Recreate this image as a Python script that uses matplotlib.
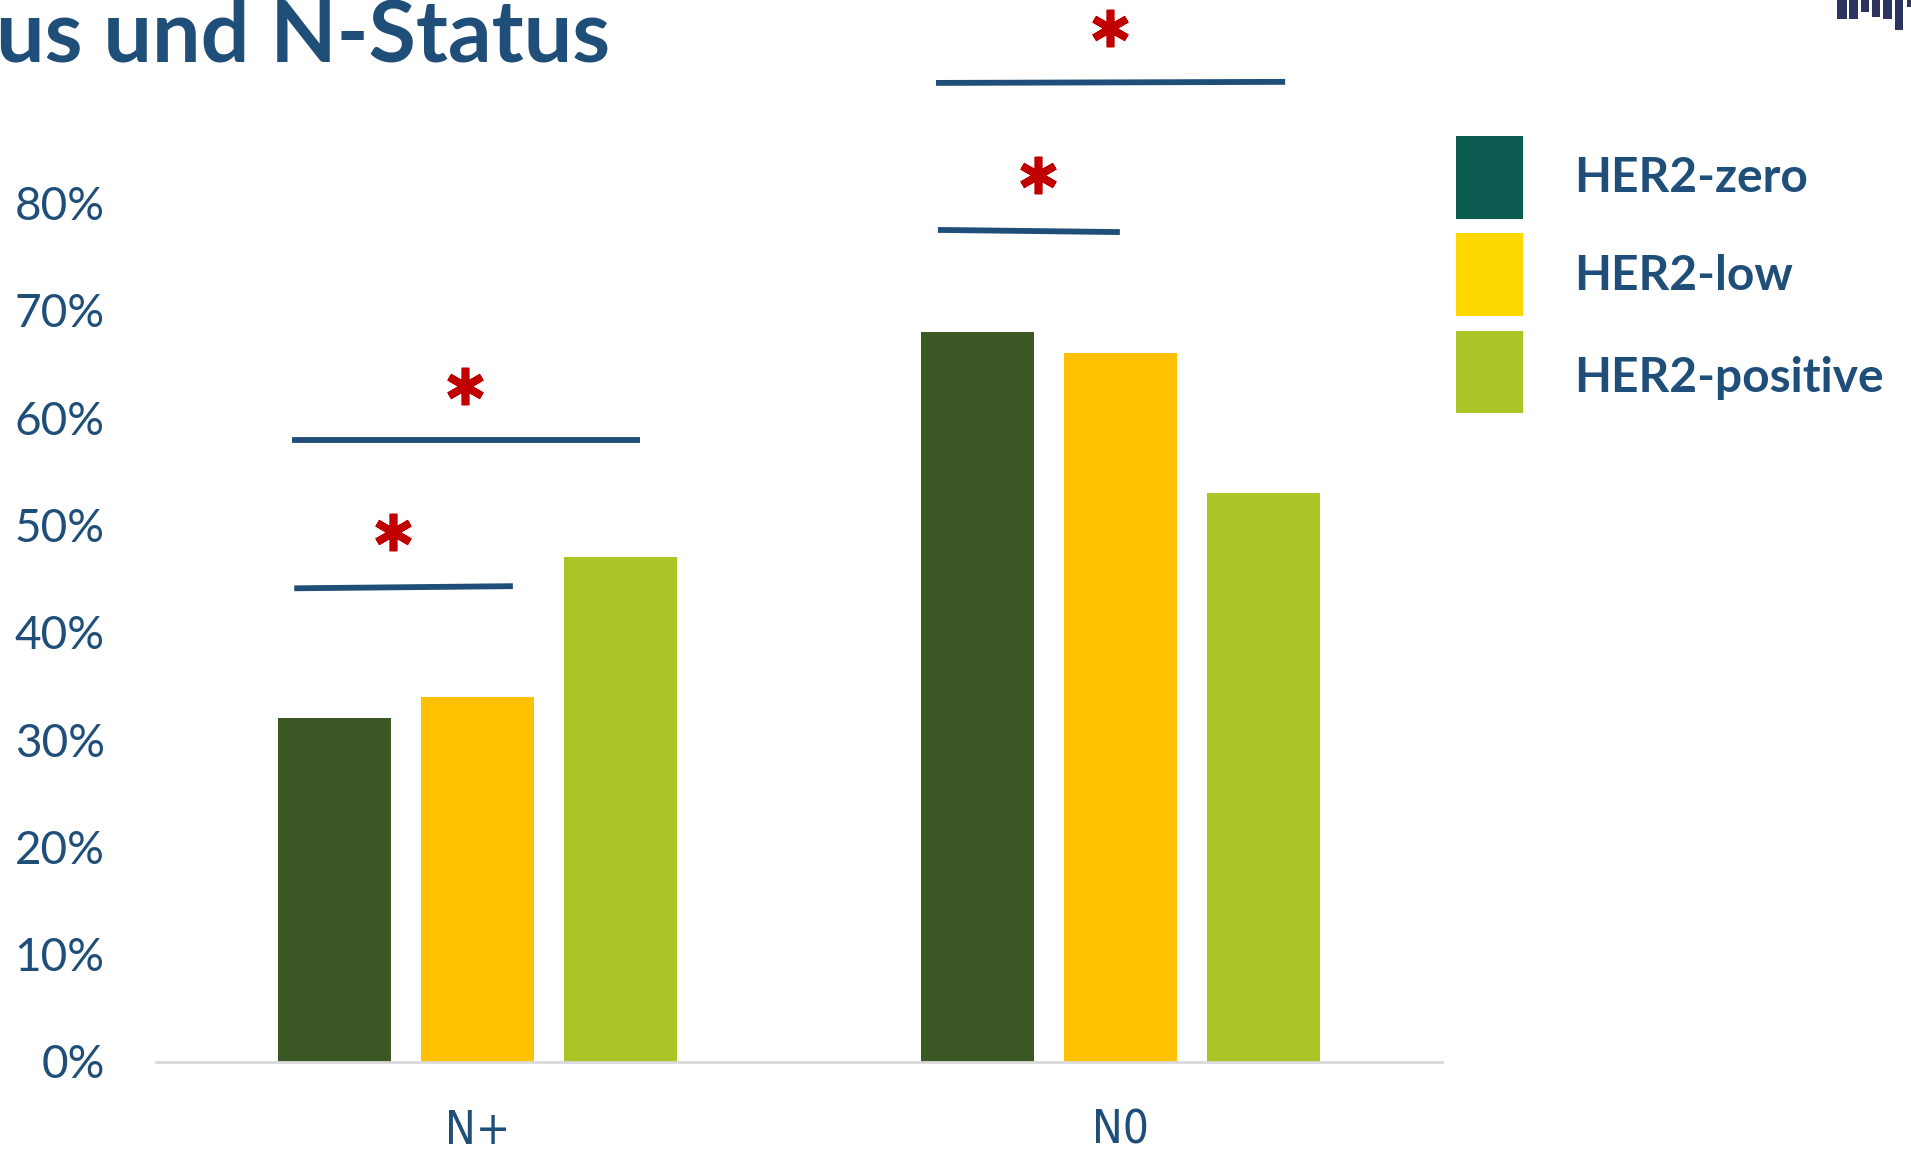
import matplotlib.pyplot as plt
from matplotlib.patches import Rectangle
import numpy as np

# data
categories = ['N+', 'N0']
series = ['HER2-zero', 'HER2-low', 'HER2-positive']
values = {
    'HER2-zero': [0.32, 0.68],
    'HER2-low': [0.34, 0.66],
    'HER2-positive': [0.47, 0.53],
}
yticks = [0, 0.1, 0.2, 0.3, 0.4, 0.5, 0.6, 0.7, 0.8]
ytick_labels = ['0%', '10%', '20%', '30%', '40%', '50%', '60%', '70%', '80%']

# significance brackets: (x0, x1, y0, y1) and asterisk positions (x, y)
sig_lines = [(-0.285, 0.055, 0.441, 0.443),
             (-0.288, 0.253, 0.579, 0.579),
             (0.716, 0.999, 0.775, 0.773),
             (0.713, 1.256, 0.912, 0.913)]
sig_stars = [(-0.131, 0.4935), (-0.019, 0.63), (0.872, 0.826), (0.984, 0.963)]

bar_colors = ['#3a5724', '#ffc000', '#aac626']
legend_colors = ['#0d5c52', '#ffd800', '#aac526']
navy = '#1f4e79'

W, H = 1911, 1150
fig = plt.figure(figsize=(W / 100, H / 100), dpi=100)
ax = fig.add_axes([156 / W, (H - 1061.5) / H, (1442 - 156) / W, 1061.5 / H])

x = np.arange(len(categories))
width = 0.176
step = 0.222
for i, s in enumerate(series):
    ax.bar(x + (i - 1) * step, values[s], width, color=bar_colors[i], zorder=2)

ax.set_xlim(-0.5, 1.5)
ax.set_ylim(0, 1061.5 / 1073)
for sp in ['top', 'right', 'left']:
    ax.spines[sp].set_visible(False)
ax.spines['bottom'].set_color('#d9d9d9')
ax.spines['bottom'].set_linewidth(2)
ax.spines['bottom'].set_zorder(3)

ax.set_yticks(yticks)
ax.set_yticklabels(ytick_labels, family='Lato', fontsize=33, color=navy)
ax.set_xticks(x)
ax.set_xticklabels(categories, family='DejaVu Sans', fontstretch='condensed',
                   fontsize=33, color=navy)
ax.tick_params(axis='y', length=0, pad=37)
ax.tick_params(axis='x', length=0, pad=34)

for x0, x1, y0, y1 in sig_lines:
    ax.plot([x0, x1], [y0, y1], color=navy, lw=4.2, solid_capstyle='butt',
            clip_on=False, zorder=4)
for sx, sy in sig_stars:
    ax.plot(sx, sy, marker=(6, 2, 0), markersize=27, markeredgewidth=5.5,
            color='#c00000', clip_on=False, zorder=4)

# title (cut off at left edge, as on the slide)
fig.text(-0.002, 1 - 62 / H, 'us und N-Status', family='Lato', fontweight='bold',
         fontsize=62, color=navy, ha='left', va='baseline')

# legend drawn by hand
box_tops = [136, 233, 331]
box_h = [83, 83, 82]
text_y = [178, 276, 378]
for i, s in enumerate(series):
    fig.add_artist(Rectangle((1456 / W, 1 - (box_tops[i] + box_h[i]) / H),
                             67 / W, box_h[i] / H, facecolor=legend_colors[i],
                             edgecolor='none', transform=fig.transFigure))
    fig.text(1574 / W, 1 - text_y[i] / H, s, family='Lato', fontweight='bold',
             fontsize=34.5, color=navy, ha='left', va='center')

# logo fragment top right
logo = [(1837, 10, 19), (1849, 9, 19), (1861, 8, 12), (1872, 8, 17),
        (1883, 9, 19), (1895, 8, 30), (1907, 4, 7)]
for lx, lw, lh in logo:
    fig.add_artist(Rectangle((lx / W, 1 - lh / H), lw / W, lh / H,
                             facecolor='#2b3461', edgecolor='none',
                             transform=fig.transFigure))

fig.savefig('out.png', dpi=100)
